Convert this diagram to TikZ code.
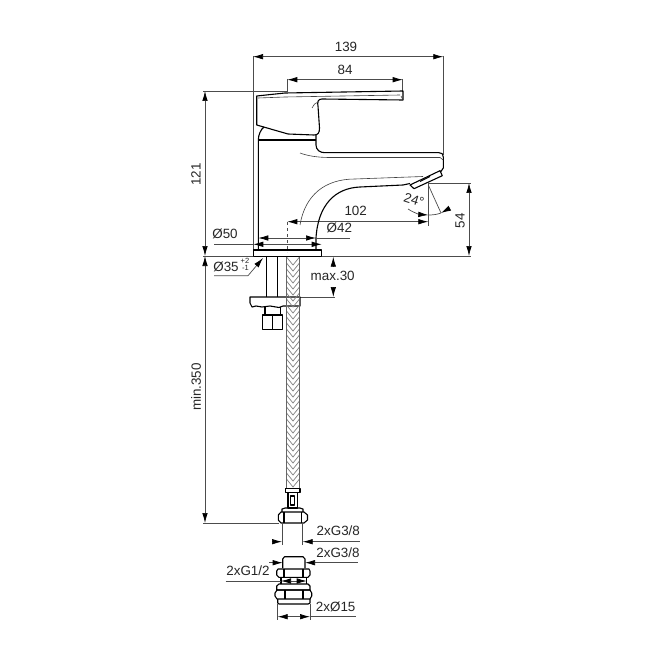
\documentclass[tikz,border=0pt]{standalone}
\usepackage{fontspec, tkz-euclide}
\setmainfont{Liberation Sans}
\usetikzlibrary{arrows.meta}
\tikzset{
    dimhead/.tip={Latex[length=10pt,width=5.5pt,black]},
    outline/.style={black, line width=1.1pt, line join=round},
    thinline/.style={black!75, line width=0.6pt},
    dimline/.style={black!70, line width=0.7pt},
    dimtip/.style={dimline, dimhead-dimhead},
    endtip/.style={dimline, -dimhead},
    braid/.style={black!50, line width=0.7pt},
    hoseline/.style={black!60, line width=1.2pt},
    dimlabel/.style={font=\fontsize{13.4}{15}\selectfont, text=black!85, inner sep=0pt},
    smalllabel/.style={font=\fontsize{7.5}{8}\selectfont, text=black!85, inner sep=0pt}
}

\begin{document}
\begin{tikzpicture}[x=1pt, y=-1pt]
    \useasboundingbox[fill=white] (0,0) rectangle (660,660);
    \tkzDefPoints{253/56.7/WL, 443.3/56.7/WR, 287.3/79.7/LL, 402.7/79.7/LR, 205/91/HT, 205/256/HB, 205/523/MB}
    \tkzDefPoints{469/183/SP, 469/256/SB, 287.3/221.7/RL, 428.3/221.7/RR, 333.3/256.7/MT, 333.3/297/MD}
    \tkzDefPoints{333.3/267/MU, 333.3/287/MV}
    \draw[dimtip] (WL) -- (WR);
    \draw[dimtip] (LL) -- (LR);
    \draw[dimtip] (HT) -- (HB);
    \draw[dimtip] (HB) -- (MB);
    \draw[dimtip] (SP) -- (SB);
    \draw[dimtip] (RL) -- (RR);
    \draw[endtip] (MU) -- (MT);
    \draw[endtip] (MV) -- (MD);
    \draw[dimline] (253,56) -- (253,250) (443.3,56) -- (443.3,155);
    \draw[dimline] (287.3,79) -- (287.3,92) (402.7,79) -- (402.7,92);
    \draw[dimline] (203,91) -- (287,91) (203,256) -- (253,256) (322,256) -- (471,256);
    \draw[dimline] (203,523) -- (279,523) (428,183) -- (471,183);
    \draw[dimline] (300,297) -- (335,297) (428.3,183) -- (428.3,226);
    \draw[dimline, dashed] (287.3,222) -- (287.3,252);

    \draw[outline] (256.7,96) -- (285,93) -- (403,91) -- (403,100) -- (322,99) .. controls (318,99) and (317,102) .. (318,106)
        -- (319.5,128) .. controls (319.5,133) and (318,135) .. (314,135) -- (288,134) -- (256.7,125) -- cycle;
    \draw[thinline] (258,98) -- (285,97) -- (400,95) (403,100) -- (401,96) (319,102) .. controls (315,103) and (313,105) .. (312,108);
    \draw[outline] (258.3,250) -- (258.3,140) .. controls (258.3,135) and (261,129) .. (264,127);
    \draw[outline] (258.3,140) -- (316,140);
    \draw[outline] (316,135) -- (316,145) .. controls (316,150) and (320,152.7) .. (325,152.7) -- (439,152.7)
        .. controls (442,152.7) and (443.3,154) .. (443.3,157) -- (443.3,168) -- (441,171.5);
    \draw[outline] (316,250) -- (316,238) .. controls (318,205) and (335,188) .. (360,187) -- (403,185) -- (410,183.5);
    \draw[thinline] (300,225) .. controls (305,195) and (325,179) .. (355,179) -- (423,176.5);
    \draw[thinline] (300,153) .. controls (308,156) and (318,157.5) .. (330,157.5) -- (440,157.5) -- (443.3,160);
    \draw[outline] (410,185) -- (440,170.7) -- (442.3,175.7) -- (414,188.7) -- cycle;
    \draw[outline] (420,181.5) -- (430,176.5);

    \draw[dimline] (428.3,185) -- (441,213);
    \draw[endtip] (408,209) .. controls (413,212.5) and (420,214.5) .. (428.3,215);
    \draw[dimline, dimhead-] (441,213) -- (450,208);
    \draw[dimline] (428.3,215) .. controls (433,215) and (437,214.5) .. (441,213);
    \node[dimlabel, rotate=-18] (angle) at (414,200) {24°};

    \draw[outline] (253.3,250) rectangle (321.7,256.7);
    \draw[dimtip] (258.3,238) -- (316,238);
    \draw[dimline] (316,238) -- (350,238);
    \draw[dimtip] (253.3,244.3) -- (321.7,244.3);
    \draw[dimline] (214,244.3) -- (253.3,244.3);
    \draw[endtip] (214,275.7) -- (248,275.7) -- (263,258);

    \draw[outline] (266.7,257) -- (266.7,297) (277.3,257) -- (277.3,297);
    \draw[outline] (250,297) -- (300,297) -- (300,306) -- (283,306) -- (279,307.5) -- (270,306) -- (262,307) -- (256,306) -- (252,307) -- (250,303) -- cycle;
    \draw[outline] (265,307) -- (265,315) (280.7,307) -- (280.7,315);
    \draw[outline] (262.7,315) rectangle (282.7,329.3) (272.7,315) -- (272.7,329.3);
    \foreach \y in {257,263,...,479}
        \draw[braid] (286.5,\y) -- (293,\y+8) -- (299.5,\y);
    \draw[hoseline] (286.5,257) -- (286.5,488) (299.5,257) -- (299.5,488);

    \draw[outline] (285.7,488.5) rectangle (300,492.5);
    \draw[outline] (288,492.5) rectangle (297.5,508) (290.5,496) rectangle (294.5,505);
    \draw[outline] (282,512) -- (282,509) -- (285,508) -- (300,508) -- (303,509) -- (303,512);
    \draw[outline] (281,512) -- (304,512) -- (307.5,515) -- (307.5,520) -- (304,523) -- (281,523) -- (278.3,520) -- (278.3,515) -- cycle;
    \draw[outline] (284,512) -- (284,523) (301.5,512) -- (301.5,523);
    \draw[dimline] (282,523) -- (282,545) (302.7,523) -- (302.7,545);
    \draw[dimline, dimhead-] (282,541.7) -- (272,541.7);
    \draw[dimline, dimhead-] (302.7,541.7) -- (360,541.7);

    \draw[outline] (282.7,568) -- (282.7,559) -- (284.5,556.7) -- (303,556.7) -- (305,559) -- (305,568);
    \draw[outline] (278,569) -- (309,569) -- (310,571) -- (310,575) -- (308,577.3) -- (279,577.3) -- (276.7,575) -- (276.7,571) -- cycle;
    \draw[outline] (284,569) -- (284,577.3) (303,569) -- (303,577.3);
    \draw[outline] (281,577.3) -- (281,584) (306.7,577.3) -- (306.7,584);
    \draw[dimline] (225.7,581) -- (281,581);
    \draw[dimtip] (306.7,581) -- (281,581);
    \draw[outline] (279,584) -- (308,584) -- (310,586) -- (310,590) -- (276.7,590) -- (276.7,586) -- cycle;
    \draw[outline] (277,590) -- (310,590) -- (311.7,593) -- (311.7,596) -- (310,599) -- (277,599) -- (275,596) -- (275,593) -- cycle;
    \draw[outline] (285,590) -- (285,599) (303,590) -- (303,599);
    \draw[outline] (277.7,599) -- (277.7,603) -- (279,604) -- (308,604) -- (310,603) -- (310,599);
    \draw[dimline, dimhead-] (282.7,562.7) -- (269,562.7);
    \draw[dimline, dimhead-] (305,562.7) -- (358,562.7);
    \draw[dimline] (277.7,604) -- (277.7,620) (310,604) -- (310,620);
    \draw[dimtip] (277.7,616.7) -- (310,616.7);
    \draw[dimline] (310,616.7) -- (355.7,616.7);

    \node[dimlabel] (width) at (346,46.5) {139};
    \node[dimlabel] (lever) at (345,69.5) {84};
    \node[dimlabel, rotate=90] (height) at (196,174.5) {121};
    \node[dimlabel, rotate=90] (minlen) at (196,387) {min.350};
    \node[dimlabel] (reach) at (355.7,211) {102};
    \node[dimlabel, rotate=90] (spout) at (460,220.7) {54};
    \node[dimlabel] (bore) at (339.3,228) {Ø42};
    \node[dimlabel] (base) at (225,234) {Ø50};
    \node[dimlabel] (hole) at (226,266.7) {Ø35};
    \node[smalllabel] (plus) at (245,260.5) {+2};
    \node[smalllabel] (minus) at (245.5,268) {-1};
    \node[dimlabel] (deck) at (332.7,275.7) {max.30};
    \node[dimlabel] (gtop) at (338.3,530.7) {2xG3/8};
    \node[dimlabel] (gmid) at (338,552.7) {2xG3/8};
    \node[dimlabel] (gin) at (248,570.7) {2xG1/2};
    \node[dimlabel] (dia) at (335.7,606.7) {2xØ15};
\end{tikzpicture}
\end{document}
